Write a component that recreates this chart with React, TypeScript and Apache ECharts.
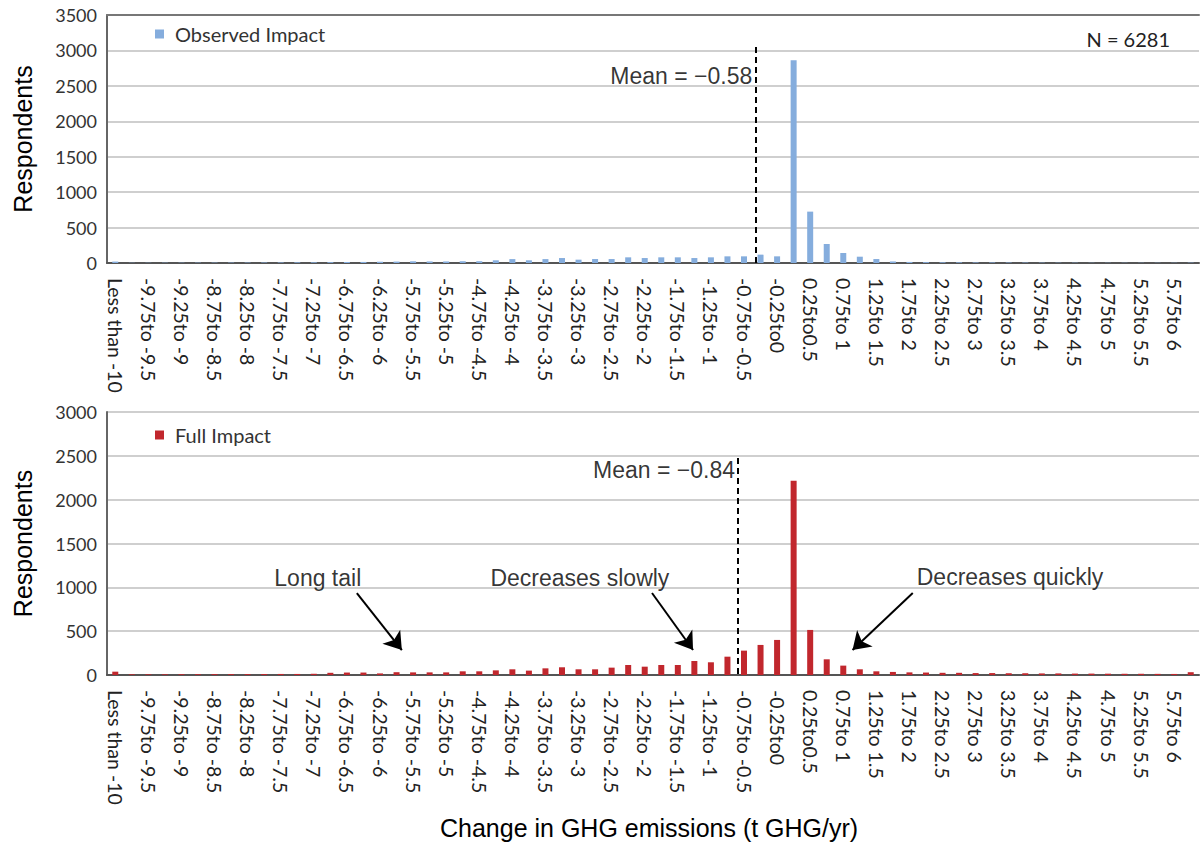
import React, { useEffect, useRef } from "react";
import * as echarts from "echarts";

const CATEGORIES = [
  "Less than -10", "-10to -9.75", "-9.75to -9.5", "-9.5to -9.25", "-9.25to -9", "-9to -8.75",
  "-8.75to -8.5", "-8.5to -8.25", "-8.25to -8", "-8to -7.75", "-7.75to -7.5", "-7.5to -7.25",
  "-7.25to -7", "-7to -6.75", "-6.75to -6.5", "-6.5to -6.25", "-6.25to -6", "-6to -5.75",
  "-5.75to -5.5", "-5.5to -5.25", "-5.25to -5", "-5to -4.75", "-4.75to -4.5", "-4.5to -4.25",
  "-4.25to -4", "-4to -3.75", "-3.75to -3.5", "-3.5to -3.25", "-3.25to -3", "-3to -2.75",
  "-2.75to -2.5", "-2.5to -2.25", "-2.25to -2", "-2to -1.75", "-1.75to -1.5", "-1.5to -1.25",
  "-1.25to -1", "-1to -0.75", "-0.75to -0.5", "-0.5to -0.25", "-0.25to0", "0to0.25",
  "0.25to0.5", "0.5to 0.75", "0.75to 1", "1to 1.25", "1.25to 1.5", "1.5to 1.75",
  "1.75to 2", "2to 2.25", "2.25to 2.5", "2.5to 2.75", "2.75to 3", "3to 3.25",
  "3.25to 3.5", "3.5to 3.75", "3.75to 4", "4to 4.25", "4.25to 4.5", "4.5to 4.75",
  "4.75to 5", "5to 5.25", "5.25to 5.5", "5.5to 5.75", "5.75to 6", "More than 6",
];

const OBSERVED = [
  20, 3, 3, 4, 4, 5, 5, 6, 6, 7, 8, 10, 10, 12, 14, 15, 18, 20,
  24, 22, 22, 25, 25, 38, 55, 38, 55, 70, 47, 56, 56, 80, 70, 80,
  80, 70, 80, 94, 94, 118, 94, 2860, 725, 268, 141, 89, 56, 22,
  15, 12, 10, 10, 8, 8, 7, 6, 5, 4, 4, 3, 3, 3, 3, 3, 3, 5,
];

const FULL = [
  38, 8, 8, 8, 9, 9, 10, 10, 10, 11, 12, 12, 14, 25, 28, 28, 18, 32,
  30, 30, 30, 42, 42, 53, 65, 50, 76, 88, 65, 65, 84, 114, 95, 114,
  114, 160, 145, 209, 278, 343, 400, 2215, 514, 179, 107, 65, 42, 35,
  30, 28, 25, 25, 22, 22, 20, 20, 18, 18, 16, 16, 15, 14, 14, 13, 12, 32,
];

const SERIES_NAMES = ["Observed Impact", "Full Impact"];
const TOP_MAX = 3500;
const BOTTOM_MAX = 3000;
const Y_INTERVAL = 500;
const MEAN_OBSERVED = -0.58;
const MEAN_FULL = -0.84;
const N_TOTAL = 6281;

// hidden value axis in t GHG/yr: each category centre sits at its bin's lower bound
const VALUE_MIN = -10.375;
const VALUE_MAX = 6.125;

const BLUE = "#85addd";
const RED = "#c1272d";
const TICK_FONT = "Lato";
const ARIAL = "Liberation Sans";

const fmtMean = (v: number) => "Mean = " + (v < 0 ? "\u2212" : "") + Math.abs(v).toFixed(2);

export default function App() {
  const ref = useRef<HTMLDivElement>(null);

  useEffect(() => {
    if (!ref.current) return;
    const chart = echarts.init(ref.current, null, { renderer: "svg" });

    const grids = [
      { left: 107, top: 15, width: 1092, height: 248, outerBoundsMode: "none" },
      { left: 107, top: 412, width: 1092, height: 263, outerBoundsMode: "none" },
    ];

    const catAxis = (gridIndex: number) => ({
      type: "category",
      gridIndex,
      data: CATEGORIES,
      boundaryGap: true,
      axisLine: { show: true, onZero: false, lineStyle: { color: "#555", width: 2 } },
      axisTick: { show: false },
      axisLabel: {
        interval: 1,
        rotate: -90,
        margin: 15,
        fontFamily: TICK_FONT,
        fontSize: 19.5,
        color: "#222",
      },
      splitLine: { show: false },
    });

    const valAxis = (gridIndex: number) => ({
      type: "value",
      gridIndex,
      min: VALUE_MIN,
      max: VALUE_MAX,
      show: false,
      axisLine: { show: false, onZero: false },
      splitLine: { show: false },
    });

    const yAxis = (gridIndex: number, max: number) => ({
      type: "value",
      gridIndex,
      min: 0,
      max,
      interval: Y_INTERVAL,
      name: "Respondents",
      nameLocation: "middle",
      nameRotate: 90,
      nameGap: 72,
      nameTextStyle: { fontFamily: ARIAL, fontSize: 25, color: "#000" },
      axisLine: { show: true, onZero: false, lineStyle: { color: "#666", width: 2 } },
      axisTick: { show: false },
      axisLabel: {
        fontFamily: TICK_FONT,
        fontSize: 18,
        color: "#333",
        margin: 10,
        formatter: (v: number) => String(v),
      },
      splitLine: { show: true, lineStyle: { color: "#cfcfcf", width: 2 } },
    });

    const textPoint = (xAxisIndex: number, yAxisIndex: number, x: number, y: number, text: string, position: string) => ({
      type: "scatter",
      xAxisIndex,
      yAxisIndex,
      symbolSize: 0,
      silent: true,
      data: [
        {
          value: [x, y],
          label: {
            show: true,
            position,
            distance: 3,
            formatter: text,
            fontFamily: ARIAL,
            fontSize: 23,
            color: "#000",
          },
        },
      ],
    });

    const meanLine = (xAxisIndex: number, yAxisIndex: number, x: number, yTop: number) => ({
      type: "line",
      xAxisIndex,
      yAxisIndex,
      data: [[x, 0]],
      showSymbol: false,
      lineStyle: { opacity: 0 },
      silent: true,
      markLine: {
        silent: true,
        symbol: ["none", "none"],
        label: { show: false },
        lineStyle: { color: "#000", width: 2, type: [6, 4] },
        data: [[{ coord: [x, yTop] }, { coord: [x, 0] }]],
      },
    });

    const arrows = {
      type: "line",
      xAxisIndex: 3,
      yAxisIndex: 1,
      data: [[0, 0]],
      showSymbol: false,
      lineStyle: { opacity: 0 },
      silent: true,
      markLine: {
        silent: true,
        symbol: ["none", "arrow"],
        symbolSize: 17,
        label: { show: false },
        lineStyle: { color: "#000", width: 2, type: "solid" },
        data: [
          [{ coord: [-6.6, 935] }, { coord: [-5.92, 285] }],
          [{ coord: [-2.14, 935] }, { coord: [-1.52, 285] }],
          [{ coord: [1.8, 935] }, { coord: [0.89, 285] }],
        ],
      },
    };

    const legendBase = {
      padding: 0,
      icon: "rect",
      itemWidth: 9,
      itemHeight: 9,
      textStyle: { fontFamily: TICK_FONT, fontSize: 20, color: "#333", padding: [0, 0, 0, 6] },
      selectedMode: false,
    };

    const option: any = {
      animation: false,
      backgroundColor: "#fff",
      grid: grids,
      title: {
        text: "N = " + N_TOTAL,
        right: 28,
        top: 24,
        textStyle: { fontFamily: TICK_FONT, fontSize: 20, fontWeight: "normal", color: "#222" },
      },
      legend: [
        { ...legendBase, data: [SERIES_NAMES[0]], left: 155, top: 24 },
        { ...legendBase, data: [SERIES_NAMES[1]], left: 155, top: 425 },
      ],
      xAxis: [
        catAxis(0),
        valAxis(0),
        catAxis(1),
        valAxis(1),
        {
          type: "category",
          gridIndex: 0,
          position: "top",
          data: CATEGORIES,
          axisLine: { show: true, onZero: false, lineStyle: { color: "#777", width: 2 } },
          axisTick: { show: false },
          axisLabel: { show: false },
        },
      ],
      yAxis: [yAxis(0, TOP_MAX), yAxis(1, BOTTOM_MAX)],
      series: [
        {
          name: SERIES_NAMES[0],
          type: "bar",
          xAxisIndex: 0,
          yAxisIndex: 0,
          data: OBSERVED,
          barWidth: 6,
          itemStyle: { color: BLUE },
          silent: true,
        },
        {
          name: SERIES_NAMES[1],
          type: "bar",
          xAxisIndex: 2,
          yAxisIndex: 1,
          data: FULL,
          barWidth: 6,
          itemStyle: { color: RED },
          silent: true,
        },
        meanLine(1, 0, MEAN_OBSERVED, 3050),
        meanLine(3, 1, MEAN_FULL, 2475),
        textPoint(1, 0, MEAN_OBSERVED, 2640, fmtMean(MEAN_OBSERVED), "left"),
        textPoint(3, 1, MEAN_FULL, 2338, fmtMean(MEAN_FULL), "left"),
        textPoint(3, 1, -7.19, 1106, "Long tail", "inside"),
        textPoint(3, 1, -3.23, 1106, "Decreases slowly", "inside"),
        textPoint(3, 1, 3.27, 1117, "Decreases quickly", "inside"),
        arrows,
      ],
      graphic: [
        {
          type: "text",
          left: 440,
          top: 815,
          style: {
            text: "Change in GHG emissions (t GHG/yr)",
            fontFamily: ARIAL,
            fontSize: 25,
            fill: "#000",
          },
        },
      ],
    };

    chart.setOption(option);
    return () => chart.dispose();
  }, []);

  return (
    <div
      ref={ref}
      style={{ position: "absolute", left: 0, top: 0, width: 1203, height: 848, background: "#fff" }}
    />
  );
}
